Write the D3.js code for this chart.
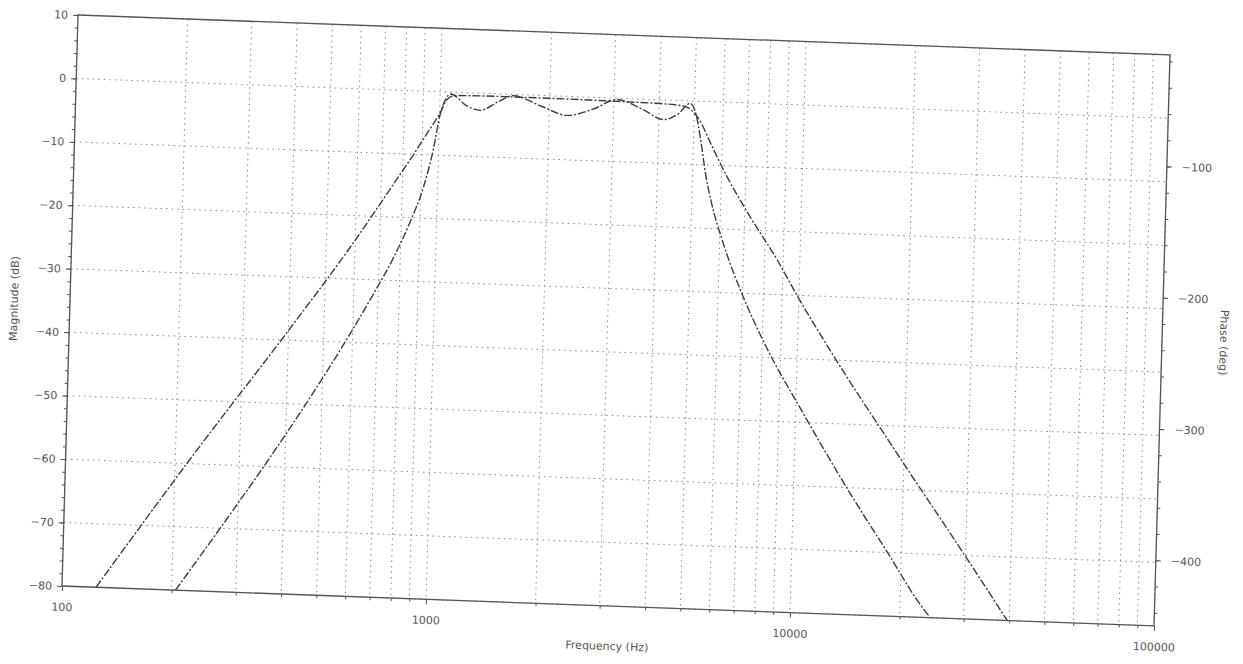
<!DOCTYPE html>
<html>
<head>
<meta charset="utf-8">
<script src="https://cdn.jsdelivr.net/npm/d3@7"></script>
<style>
  body { margin: 0; background: #fff; }
  svg { display: block; }
  text { font-family: "DejaVu Sans", sans-serif; fill: #555; }
</style>
</head>
<body>
<svg id="chart" width="1243" height="664"></svg>
<script>
// ---- data ----
const xTickLabels = [100, 1000, 10000, 100000];
const yTicks = [10, 0, -10, -20, -30, -40, -50, -60, -70, -80];
const phaseTicks = [-100, -200, -300, -400];

// Curve A: flat pass-band, gentler skirts
const freqA = [124, 224, 396, 582, 757, 855, 930, 1004, 1045, 1100, 1500, 2000, 3000, 4000, 4600, 4900, 5250, 5600, 6200, 7265, 8677, 9902, 12080, 19600, 30400, 39500];
const magA  = [-80, -58.6, -38.8, -25.0, -14.8, -10.0, -6.5, -3.3, -1.2, -0.5, -0.4, -0.4, -0.5, -0.6, -0.8, -1.4, -3.6, -6.8, -11.6, -18.0, -24.6, -30.1, -37.8, -55.2, -70.6, -80];

// Curve B: rippled pass-band, steeper skirts
const freqB = [205, 280, 357, 446, 591, 680, 768, 847, 916, 968, 1004, 1040, 1068, 1188, 1291, 1440, 1587, 1900, 2234, 2650, 3063, 3600, 4121, 4500, 4864, 5050, 5228, 5430, 5630, 6166, 7067, 8262, 10300, 14360, 18330, 23100, 24300];
const magB  = [-80, -68.5, -59.3, -50.5, -38.6, -32.2, -26.3, -20.6, -15.0, -9.0, -3.5, -1.0, -0.3, -2.1, -2.7, -1.3, -0.2, -1.7, -3.0, -1.8, -0.2, -1.6, -3.1, -2.2, -0.4, -2.0, -6.0, -11.5, -15.4, -22.5, -30.8, -38.6, -47.8, -61.0, -70.0, -78.5, -80];

// ---- layout ----
const W = 1092, H = 571;
const svg = d3.select("#chart");
// the scanned chart is slightly rotated/sheared
const g = svg.append("g").attr("transform", "matrix(1,0.0365,-0.028,1,78,15)");

const x = d3.scaleLog().domain([100, 100000]).range([0, W]);
const y = d3.scaleLinear().domain([-80, 10]).range([H, 0]);
const yR = d3.scaleLinear().domain([-450, -15]).range([H, 0]);

// grid
const gridColor = "#8a8a8a";
g.append("g").selectAll("line").data(x.ticks()).join("line")
  .attr("x1", d => x(d)).attr("x2", d => x(d)).attr("y1", 0).attr("y2", H)
  .attr("stroke", gridColor).attr("stroke-width", 1).attr("stroke-dasharray", "1.5,4");
g.append("g").selectAll("line").data(yTicks).join("line")
  .attr("x1", 0).attr("x2", W).attr("y1", d => y(d)).attr("y2", d => y(d))
  .attr("stroke", gridColor).attr("stroke-width", 1).attr("stroke-dasharray", "1.5,4");

// curves
const line = d3.line().x(d => x(d[0])).y(d => y(d[1])).curve(d3.curveMonotoneX);
const dataA = freqA.map((f, i) => [f, magA[i]]);
const dataB = freqB.map((f, i) => [f, magB[i]]);
[dataA, dataB].forEach(dat => {
  g.append("path").datum(dat).attr("d", line)
    .attr("fill", "none").attr("stroke", "#3c3c3c").attr("stroke-width", 1.4)
    .attr("stroke-dasharray", "8,2,2,2");
});

// frame
g.append("rect").attr("x", 0).attr("y", 0).attr("width", W).attr("height", H)
  .attr("fill", "none").attr("stroke", "#555").attr("stroke-width", 1.3);

function styleAxis(sel) {
  sel.select(".domain").remove();
  sel.selectAll(".tick line").attr("stroke", "#555");
  sel.selectAll("text").attr("font-family", "DejaVu Sans, sans-serif").attr("font-size", 11).attr("fill", "#555");
}

// bottom axis
g.append("g").attr("transform", `translate(0,${H})`)
  .call(d3.axisBottom(x).tickValues(x.ticks()).tickSize(3).tickFormat(""))
  .call(styleAxis);
g.append("g").attr("transform", `translate(0,${H})`)
  .call(d3.axisBottom(x).tickValues(xTickLabels).tickSize(5).tickPadding(12).tickFormat(d3.format("d")))
  .call(styleAxis);

// left axis
g.append("g").call(d3.axisLeft(y).tickValues(d3.range(-80, 11, 2)).tickSize(3).tickFormat(""))
  .call(styleAxis);
g.append("g").call(d3.axisLeft(y).tickValues(yTicks).tickSize(5).tickPadding(5))
  .call(styleAxis);

// right axis
g.append("g").attr("transform", `translate(${W},0)`)
  .call(d3.axisRight(yR).tickValues(d3.range(-440, -15, 20)).tickSize(3).tickFormat(""))
  .call(styleAxis);
g.append("g").attr("transform", `translate(${W},0)`)
  .call(d3.axisRight(yR).tickValues(phaseTicks).tickSize(5).tickPadding(10))
  .call(styleAxis);

// titles
g.append("text").attr("x", W / 2).attr("y", H + 44).attr("text-anchor", "middle")
  .attr("font-size", 11).text("Frequency (Hz)");
g.append("text").attr("transform", `translate(-52,${H / 2}) rotate(-90)`).attr("text-anchor", "middle")
  .attr("font-size", 11).attr("fill", "#4f6a62").text("Magnitude (dB)");
g.append("text").attr("transform", `translate(${W + 58},${H / 2}) rotate(90)`).attr("text-anchor", "middle")
  .attr("font-size", 11).text("Phase (deg)");
</script>
</body>
</html>
